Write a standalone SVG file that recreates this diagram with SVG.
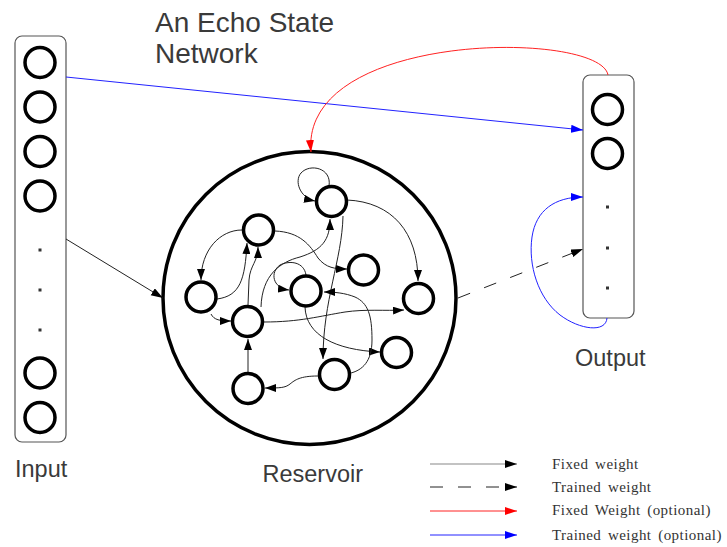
<svg xmlns="http://www.w3.org/2000/svg" width="727" height="547" viewBox="0 0 727 547">
  <defs>
    <style>
      .label { font-family: "Liberation Sans", Arial, sans-serif; fill: #3a3a3a; }
      .legend { font-family: "Liberation Serif", "Times New Roman", serif; font-size: 15px; letter-spacing: 0.45px; word-spacing: 2.5px; fill: #333; }
      .box { fill: #fff; stroke: #555; stroke-width: 1.2; }
      .unit { fill: #fff; stroke: #000; stroke-width: 3.5; }
      .dot { fill: #333; }
      .edge { fill: none; stroke: #222; stroke-width: 1; }
      .trained { fill: none; stroke: #222; stroke-width: 1; stroke-dasharray: 13 15; }
      .red { fill: none; stroke: #f22; stroke-width: 1; }
      .blue { fill: none; stroke: #22f; stroke-width: 1; }
    </style>
    <marker id="ah" markerUnits="userSpaceOnUse" markerWidth="11" markerHeight="8" refX="11" refY="4" orient="auto">
      <path d="M0,0 L11,4 L0,8 Z" fill="#000"/>
    </marker>
    <marker id="ahL" markerUnits="userSpaceOnUse" markerWidth="12" markerHeight="9" refX="12" refY="4" orient="auto">
      <path d="M0,0 L12,4 L0,8 Z" fill="#000"/>
    </marker>
    <marker id="ahRed" markerUnits="userSpaceOnUse" markerWidth="12" markerHeight="9" refX="12" refY="4" orient="auto">
      <path d="M0,0 L12,4 L0,8 Z" fill="#f00"/>
    </marker>
    <marker id="ahBlue" markerUnits="userSpaceOnUse" markerWidth="12" markerHeight="9" refX="12" refY="4" orient="auto">
      <path d="M0,0 L12,4 L0,8 Z" fill="#00f"/>
    </marker>
  </defs>

  <rect width="727" height="547" fill="#fff"/>

  <!-- title -->
  <text class="label" x="155" y="32" font-size="28">An Echo State</text>
  <text class="label" x="155" y="63" font-size="28">Network</text>

  <!-- input layer -->
  <g id="input">
    <rect class="box" x="15" y="36" width="51" height="406" rx="7"/>
    <circle class="unit" cx="40" cy="62.5" r="15"/>
    <circle class="unit" cx="40" cy="107" r="15"/>
    <circle class="unit" cx="40" cy="151.5" r="15"/>
    <circle class="unit" cx="40" cy="196" r="15"/>
    <rect class="dot" x="38.5" y="248.5" width="3" height="3"/>
    <rect class="dot" x="38.5" y="288.5" width="3" height="3"/>
    <rect class="dot" x="38.5" y="328.5" width="3" height="3"/>
    <circle class="unit" cx="40" cy="373" r="15"/>
    <circle class="unit" cx="40" cy="417.5" r="15"/>
    <text class="label" x="15" y="477" font-size="23.5">Input</text>
  </g>

  <!-- output layer -->
  <g id="output">
    <rect class="box" x="583" y="75" width="51" height="243" rx="7"/>
    <circle class="unit" cx="607.5" cy="109.5" r="15"/>
    <circle class="unit" cx="607.5" cy="153.5" r="15"/>
    <rect class="dot" x="606" y="205.5" width="3" height="3"/>
    <rect class="dot" x="606" y="246.5" width="3" height="3"/>
    <rect class="dot" x="606" y="286.5" width="3" height="3"/>
    <text class="label" x="575" y="366" font-size="23.5">Output</text>
  </g>

  <!-- reservoir -->
  <g id="reservoir">
    <circle cx="309.5" cy="298" r="146.5" fill="#fff" stroke="#000" stroke-width="3.5"/>
    <text class="label" x="262.5" y="481.5" font-size="23.5">Reservoir</text>
  </g>

  <!-- connectors -->
  <g id="connectors">
    <path class="edge" d="M66,239 L163,298" marker-end="url(#ahL)"/>
    <path class="blue" d="M66,77 L583,130" marker-end="url(#ahBlue)"/>
    <path class="red" d="M608,75 C600,30 300,30 311,152" marker-end="url(#ahRed)"/>
    <path class="blue" d="M607,318 C606,333 580,330 560,315 C538,298 528,265 532,237 C536,210 555,197 583,197" marker-end="url(#ahBlue)"/>
    <path class="trained" d="M458,298 L583,249" marker-end="url(#ahL)"/>

    <!-- recurrent weights inside the reservoir -->
    <path class="edge" d="M329,186 C332,168 310,163 301,173 C294,181 300,198 315,201" marker-end="url(#ah)"/>
    <path class="edge" d="M347,200 C392,202 418,232 418,281" marker-end="url(#ah)"/>
    <path class="edge" d="M242,230 C220,230 201,250 201,280" marker-end="url(#ah)"/>
    <path class="edge" d="M217,299 C240,296 245,280 247,243" marker-end="url(#ah)"/>
    <path class="edge" d="M248,305 L249,280 C250,265 258,262 258,247" marker-end="url(#ah)"/>
    <path class="edge" d="M275,231 C300,232 310,245 318,258 C326,268 335,269 347,269" marker-end="url(#ah)"/>
    <path class="edge" d="M261,307 C262,275 280,262 300,257 C322,250 330,240 330,219" marker-end="url(#ah)"/>
    <path class="edge" d="M343,216 C342,260 323,300 323,359" marker-end="url(#ah)"/>
    <path class="edge" d="M306,275 C304,262 290,260 280,265 C270,272 272,288 289,290" marker-end="url(#ah)"/>
    <path class="edge" d="M305,307 C306,335 335,350 380,352" marker-end="url(#ah)"/>
    <path class="edge" d="M351,373 C362,370 372,362 372,340 C372,315 368,303 355,297 C345,293 335,292 324,292" marker-end="url(#ah)"/>
    <path class="edge" d="M264,322 C300,322 320,316 345,312 C365,309 385,311 404,310" marker-end="url(#ah)"/>
    <path class="edge" d="M211,314 C214,320 220,321 231,321" marker-end="url(#ah)"/>
    <path class="edge" d="M248,372 L248,339" marker-end="url(#ah)"/>
    <path class="edge" d="M318,376 C300,376 295,380 290,384 C285,388 280,388 265,388" marker-end="url(#ah)"/>

    <!-- legend strokes -->
    <path d="M430,464 L517,464" fill="none" stroke="#888" stroke-width="1.2" marker-end="url(#ahL)"/>
    <path class="trained" d="M430,487 L517,487" stroke-dasharray="15 13" marker-end="url(#ahL)"/>
    <path class="red" d="M430,511 L517,511" marker-end="url(#ahRed)"/>
    <path class="blue" d="M430,535 L517,535" marker-end="url(#ahBlue)"/>
  </g>

  <!-- reservoir units, drawn above the connectors -->
  <g id="node-a"><circle class="unit" cx="331.5" cy="201.5" r="15"/></g>
  <g id="node-b"><circle class="unit" cx="258.5" cy="230" r="15"/></g>
  <g id="node-c"><circle class="unit" cx="363.5" cy="270" r="15"/></g>
  <g id="node-d"><circle class="unit" cx="306" cy="291" r="15"/></g>
  <g id="node-e"><circle class="unit" cx="201" cy="297" r="15"/></g>
  <g id="node-f"><circle class="unit" cx="418.5" cy="298.5" r="15"/></g>
  <g id="node-g"><circle class="unit" cx="247.5" cy="321.5" r="15"/></g>
  <g id="node-h"><circle class="unit" cx="396.5" cy="352.5" r="15"/></g>
  <g id="node-i"><circle class="unit" cx="334.5" cy="374.5" r="15"/></g>
  <g id="node-j"><circle class="unit" cx="248" cy="388.5" r="15"/></g>

  <!-- legend labels -->
  <g id="legend">
    <text class="legend" x="552" y="468.5">Fixed weight</text>
    <text class="legend" x="552" y="491.5">Trained weight</text>
    <text class="legend" x="552" y="515">Fixed Weight (optional)</text>
    <text class="legend" x="552" y="539.5">Trained weight (optional)</text>
  </g>
</svg>
